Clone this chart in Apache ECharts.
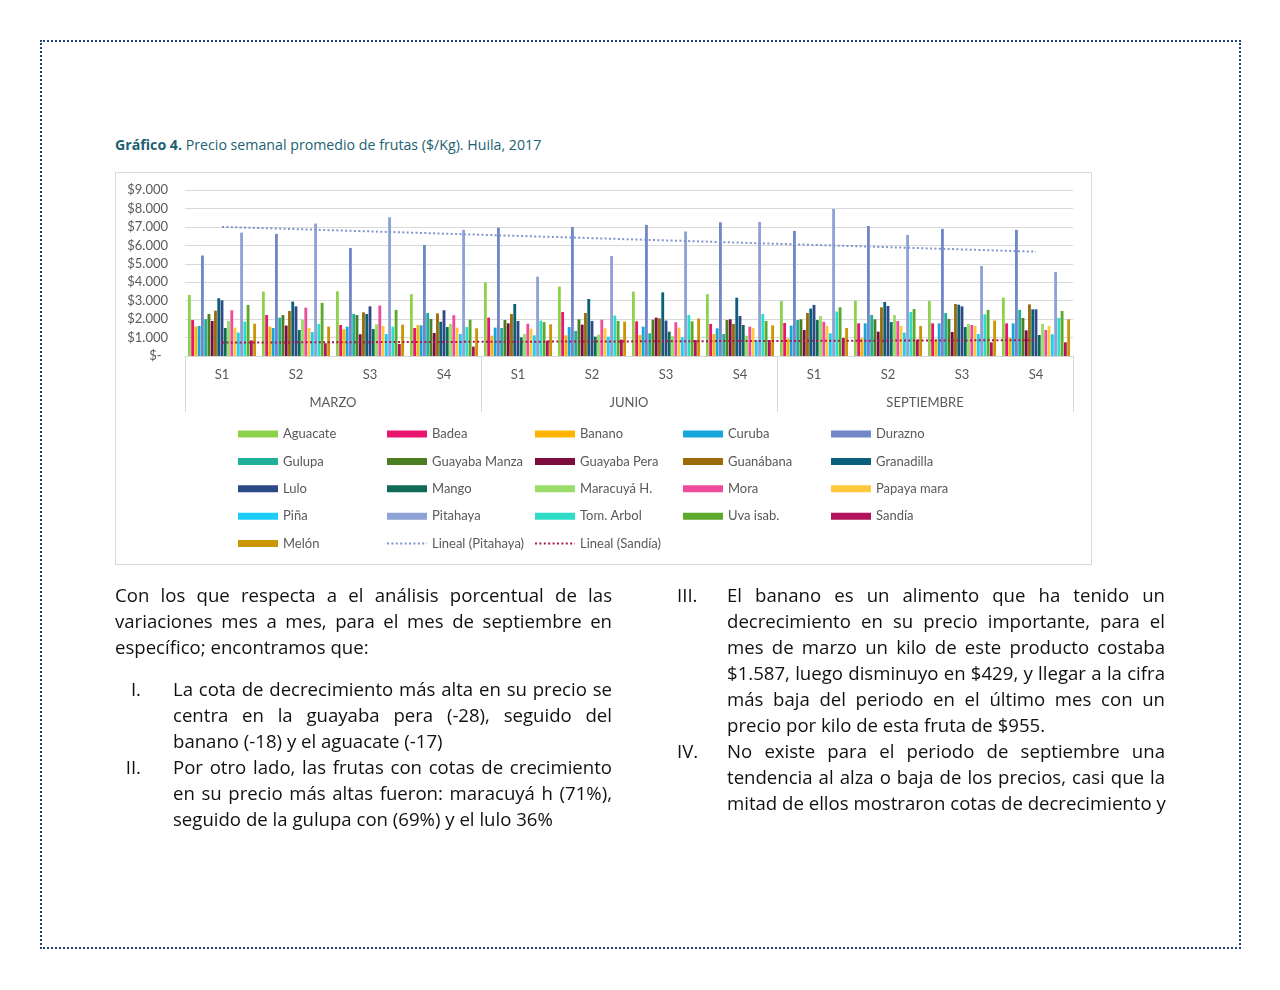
<!DOCTYPE html>
<html>
<head>
<meta charset="utf-8">
<script src="https://cdn.jsdelivr.net/npm/echarts/dist/echarts.min.js"></script>
<style>
html,body{margin:0;padding:0;background:#fff;}
body{width:1280px;height:990px;position:relative;overflow:hidden;font-family:'Open Sans','Noto Sans',sans-serif;}
#frame{position:absolute;left:40px;top:40px;width:1201px;height:909px;box-sizing:border-box;border:2px dotted #24417a;}
#box{position:absolute;left:115px;top:172px;width:977px;height:393px;box-sizing:border-box;border:1px solid #d9d9d9;}
#chart{position:absolute;left:0;top:0;width:1280px;height:990px;}
.title{position:absolute;left:115px;top:136px;font-size:14.2px;line-height:18px;color:#1c5f72;white-space:nowrap;}
.title b{font-weight:700;}
.col{position:absolute;font-size:18.6px;line-height:26px;color:#111;}
.col div{height:26px;white-space:nowrap;}
.j{text-align:justify;text-align-last:justify;}
.l{text-align:left;}
.num{position:absolute;font-size:18.6px;line-height:26px;color:#111;}
</style>
</head>
<body>
<div id="frame"></div>
<div id="box"></div>
<div class="title"><b>Gráfico 4.</b> Precio semanal promedio de frutas ($/Kg). Huila, 2017</div>
<div id="chart"></div>

<div class="col" style="left:115px;top:582px;width:497px;">
  <div class="j">Con los que respecta a el análisis porcentual de las</div>
  <div class="j">variaciones mes a mes, para el mes de septiembre en</div>
  <div class="l">específico; encontramos que:</div>
</div>
<div class="num" style="left:100px;top:676px;width:41px;text-align:right;">I.</div>
<div class="col" style="left:173px;top:676px;width:439px;">
  <div class="j">La cota de decrecimiento más alta en su precio se</div>
  <div class="j">centra en la guayaba pera (-28), seguido del</div>
  <div class="l">banano (-18) y el aguacate (-17)</div>
</div>
<div class="num" style="left:100px;top:754px;width:41px;text-align:right;">II.</div>
<div class="col" style="left:173px;top:754px;width:439px;">
  <div class="j">Por otro lado, las frutas con cotas de crecimiento</div>
  <div class="j">en su precio más altas fueron: maracuyá h (71%),</div>
  <div class="l">seguido de la gulupa con (69%) y el lulo 36%</div>
</div>
<div class="num" style="left:677px;top:582px;">III.</div>
<div class="col" style="left:727px;top:582px;width:438px;">
  <div class="j">El banano es un alimento que ha tenido un</div>
  <div class="j">decrecimiento en su precio importante, para el</div>
  <div class="j">mes de marzo un kilo de este producto costaba</div>
  <div class="j">$1.587, luego disminuyo en $429, y llegar a la cifra</div>
  <div class="j">más baja del periodo en el último mes con un</div>
  <div class="l">precio por kilo de esta fruta de $955.</div>
</div>
<div class="num" style="left:677px;top:738px;">IV.</div>
<div class="col" style="left:727px;top:738px;width:438px;">
  <div class="j">No existe para el periodo de septiembre una</div>
  <div class="j">tendencia al alza o baja de los precios, casi que la</div>
  <div class="j">mitad de ellos mostraron cotas de decrecimiento y</div>
</div>

<script>
// ---- Categories / tick labels ----
const weeks = ['S1','S2','S3','S4','S1','S2','S3','S4','S1','S2','S3','S4'];
const months = ['MARZO','JUNIO','SEPTIEMBRE'];
const yTickLabels = ['$-\u2002','$1.000','$2.000','$3.000','$4.000','$5.000','$6.000','$7.000','$8.000','$9.000'];

// ---- Series values ($/Kg), Marzo S1..S4, Junio S1..S4, Septiembre S1..S4 ----
const aguacate     = [3310, 3490, 3510, 3350, 4000, 3760, 3490, 3350, 2980, 3000, 2980, 3160];
const badea        = [1950, 2220, 1680, 1520, 2080, 2390, 1880, 1740, 1790, 1770, 1770, 1770];
const banano       = [1600, 1590, 1460, 1680, 1100, 1120, 1140, 1190, 950, 960, 920, 990];
const curuba       = [1630, 1520, 1590, 1660, 1540, 1570, 1590, 1500, 1650, 1770, 1770, 1770];
const durazno      = [5450, 6620, 5860, 6020, 6960, 7000, 7110, 7250, 6780, 7050, 6890, 6840];
const gulupa       = [2000, 2080, 2280, 2330, 1520, 1360, 1230, 1190, 1950, 2220, 2330, 2500];
const guayabaManza = [2280, 2220, 2220, 2010, 1950, 1990, 1970, 1950, 1990, 1990, 2010, 2060];
const guayabaPera  = [1900, 1650, 1180, 1250, 1770, 1700, 2080, 1990, 1410, 1320, 1300, 1390];
const guanabana    = [2460, 2440, 2370, 2310, 2280, 2330, 2040, 1740, 2330, 2640, 2820, 2800];
const granadilla   = [3130, 2950, 2280, 1860, 2820, 3090, 3450, 3160, 2570, 2930, 2780, 2530];
const lulo         = [3020, 2690, 2690, 2480, 1900, 1900, 1920, 2170, 2770, 2710, 2690, 2530];
const mango        = [1520, 1410, 1460, 1570, 1010, 1050, 1320, 1680, 1950, 1840, 1570, 1140];
const maracuya     = [1900, 1970, 1720, 1740, 1190, 1160, 1080, 1100, 2170, 2220, 1740, 1740];
const mora         = [2480, 2620, 2730, 2210, 1750, 1970, 1830, 1590, 1860, 1900, 1680, 1410];
const papaya       = [1540, 1520, 1630, 1540, 1480, 1500, 1540, 1520, 1630, 1630, 1630, 1630];
const pina         = [1270, 1300, 1190, 1190, 1120, 1050, 1010, 870, 1230, 1270, 1190, 1180];
const pitahaya     = [6690, 7180, 7520, 6840, 4300, 5420, 6750, 7270, 7970, 6560, 4880, 4560];
const tomArbol     = [1860, 1740, 1590, 1570, 1920, 2190, 2220, 2280, 2410, 2390, 2260, 2060];
const uva          = [2770, 2880, 2500, 1970, 1840, 1900, 1880, 1900, 2640, 2550, 2500, 2440];
const sandia       = [850, 690, 650, 510, 830, 890, 870, 870, 980, 890, 740, 740];
const melon        = [1750, 1590, 1700, 1500, 1720, 1860, 2030, 1660, 1520, 1630, 1920, 1990];

const fruitNames = ['Aguacate','Badea','Banano','Curuba','Durazno','Gulupa','Guayaba Manza','Guayaba Pera',
  'Guanábana','Granadilla','Lulo','Mango','Maracuyá H.','Mora','Papaya mara','Piña','Pitahaya',
  'Tom. Arbol','Uva isab.','Sandía','Melón'];
const fruitValues = [aguacate,badea,banano,curuba,durazno,gulupa,guayabaManza,guayabaPera,guanabana,
  granadilla,lulo,mango,maracuya,mora,papaya,pina,pitahaya,tomArbol,uva,sandia,melon];
const fruitColors = ['#8ED14B','#E91670','#FFB400','#16A6DB','#7187C8','#1FB09A','#4B7F22','#7C0C3E',
  '#9B6B08','#0B5F7A','#2E4A86','#0F6B58','#9ADB6A','#EE4C9A','#FFC83D','#1ECDF7','#8EA2D7',
  '#2EDDC6','#5DA92C','#B3135C','#CC9506'];

// least-squares linear trendline (as in the spreadsheet's "Lineal" trendline)
function linearTrend(vals) {
  const n = vals.length;
  let sx = 0, sy = 0, sxy = 0, sxx = 0;
  vals.forEach((v, i) => { const x = i + 1; sx += x; sy += v; sxy += x * v; sxx += x * x; });
  const b = (n * sxy - sx * sy) / (n * sxx - sx * sx);
  const a = (sy - b * sx) / n;
  return vals.map((_, i) => +(a + b * (i + 1)).toFixed(1));
}

const font = 'Lato';
const series = fruitNames.map((name, i) => ({
  type: 'bar', name, data: fruitValues[i],
  barCategoryGap: '8%', barGap: '15%',
  itemStyle: { color: fruitColors[i] },
  emphasis: { disabled: true }
}));
series.push({
  type: 'line', name: 'Lineal (Pitahaya)', data: linearTrend(pitahaya),
  symbol: 'none', z: 5, silent: true,
  lineStyle: { type: [2, 2.4], width: 2, color: '#8194CF' },
  itemStyle: { color: '#8194CF' }
});
series.push({
  type: 'line', name: 'Lineal (Sandía)', data: linearTrend(sandia),
  symbol: 'none', z: 5, silent: true,
  lineStyle: { type: [2, 2.4], width: 2, color: '#A8184F' },
  itemStyle: { color: '#A8184F' }
});

const legendCols = [
  ['Aguacate','Gulupa','Lulo','Piña','Melón'],
  ['Badea','Guayaba Manza','Mango','Pitahaya','Lineal (Pitahaya)'],
  ['Banano','Guayaba Pera','Maracuyá H.','Tom. Arbol','Lineal (Sandía)'],
  ['Curuba','Guanábana','Mora','Uva isab.'],
  ['Durazno','Granadilla','Papaya mara','Sandía']
];
const legendX = [238, 386, 534, 683, 831];
const legends = legendCols.map((col, i) => ({
  orient: 'vertical', left: legendX[i], top: 426, padding: 0,
  itemWidth: 40, itemHeight: 7, itemGap: 11.4, selectedMode: false,
  textStyle: { fontFamily: font, fontSize: 13, color: '#595959', lineHeight: 16 },
  data: col.map(n => n.startsWith('Lineal')
    ? { name: n, itemStyle: { opacity: 0 } }
    : { name: n, icon: 'rect' })
}));

const chart = echarts.init(document.getElementById('chart'), null, { renderer: 'canvas' });
chart.setOption({
  animation: false,
  backgroundColor: 'transparent',
  textStyle: { fontFamily: font },
  grid: { left: 185, right: 207, top: 190, bottom: 634, containLabel: false, outerBoundsMode: 'none' },
  legend: legends,
  xAxis: [
    {
      type: 'category', data: weeks, boundaryGap: true,
      axisLine: { show: true, onZero: false, lineStyle: { color: '#D9D9D9', width: 1 } },
      axisTick: { show: false },
      axisLabel: { interval: 0, margin: 12, fontFamily: font, fontSize: 13, color: '#595959' },
      splitLine: { show: false }
    },
    {
      type: 'category', data: months, position: 'bottom', boundaryGap: true,
      axisLine: { show: false, onZero: false },
      axisTick: { show: true, interval: 0, length: 56, lineStyle: { color: '#D9D9D9', width: 1 } },
      axisLabel: { interval: 0, margin: 40, fontFamily: font, fontSize: 13, color: '#595959' },
      splitLine: { show: false }
    }
  ],
  yAxis: {
    type: 'value', min: 0, max: 9000, interval: 1000,
    axisLine: { show: false }, axisTick: { show: false },
    axisLabel: { margin: 17, fontFamily: font, fontSize: 13, color: '#595959',
      formatter: v => yTickLabels[Math.round(v / 1000)] },
    splitLine: { lineStyle: { color: '#D9D9D9', width: 1 } }
  },
  series
});
</script>
</body>
</html>
